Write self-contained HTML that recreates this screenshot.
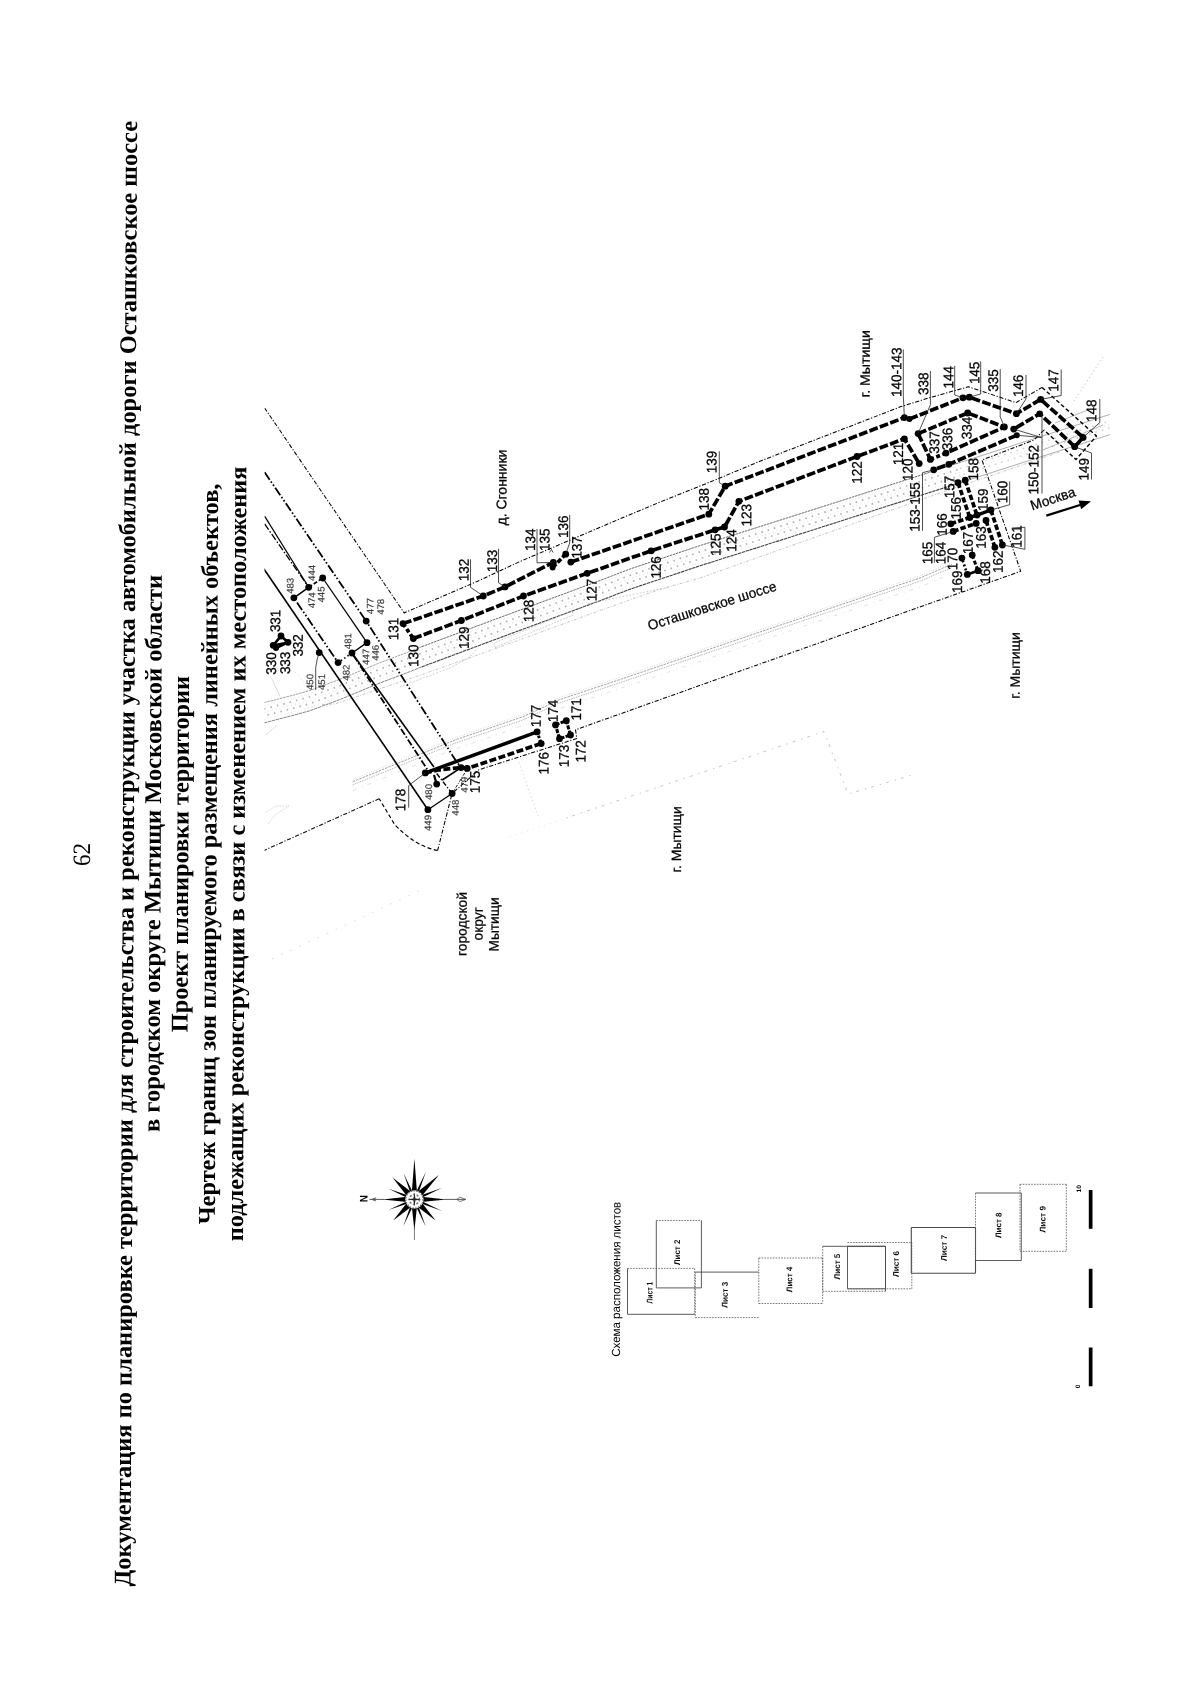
<!DOCTYPE html>
<html><head><meta charset="utf-8"><title>62</title>
<style>html,body{margin:0;padding:0;background:#fff}svg{display:block;filter:grayscale(1)}text{white-space:pre}</style>
</head><body>
<svg width="1200" height="1697" viewBox="0 0 1200 1697">
<rect width="1200" height="1697" fill="#fff"/>
<text transform="translate(90.0 866.0) rotate(-89.74)" font-family="Liberation Serif" font-size="25" font-weight="normal" fill="#000" textLength="23.0" lengthAdjust="spacingAndGlyphs">62</text>
<text transform="translate(130.5 1586.5) rotate(-89.74)" font-family="Liberation Serif" font-size="24" font-weight="bold" fill="#000" textLength="1465.5" lengthAdjust="spacingAndGlyphs">Документация по планировке территории для строительства и реконструкции участка автомобильной дороги Осташковское шоссе</text>
<text transform="translate(159.4 1132.0) rotate(-89.74)" font-family="Liberation Serif" font-size="24" font-weight="bold" fill="#000" textLength="557.2" lengthAdjust="spacingAndGlyphs">в городском округе Мытищи Московской области</text>
<text transform="translate(187.5 1032.2) rotate(-89.74)" font-family="Liberation Serif" font-size="24" font-weight="bold" fill="#000" textLength="356.3" lengthAdjust="spacingAndGlyphs">Проект планировки территории</text>
<text transform="translate(214.8 1224.3) rotate(-89.74)" font-family="Liberation Serif" font-size="24" font-weight="bold" fill="#000" textLength="740.7" lengthAdjust="spacingAndGlyphs">Чертеж границ зон планируемого размещения линейных объектов,</text>
<text transform="translate(242.9 1241.2) rotate(-89.74)" font-family="Liberation Serif" font-size="24" font-weight="bold" fill="#000" textLength="774.7" lengthAdjust="spacingAndGlyphs">подлежащих реконструкции в связи с изменением их местоположения</text>
<clipPath id="mapclip"><rect x="264.5" y="330" width="860" height="650"/></clipPath>
<g clip-path="url(#mapclip)">
<path d="M264.0 702.7 L290.0 696.0 L309.3 690.7 L340.0 679.3 L380.0 662.7 L406.7 652.7 L421.7 646.7" fill="none" stroke="#8a8a8a" stroke-width="0.8" stroke-linecap="butt" stroke-linejoin="round" stroke-dasharray="2.6 0.7"/>
<path d="M421.7 646.7 L500.0 617.5 L600.0 580.5 L630.0 569.0 L700.0 545.6 L820.0 507.5 L912.0 478.0 L960.0 462.5" fill="none" stroke="#5a5a5a" stroke-width="0.9" stroke-linecap="butt" stroke-linejoin="round" stroke-dasharray="2.6 0.7"/>
<path d="M960.0 462.5 L1000.0 449.7 L1110.0 414.4" fill="none" stroke="#8c8c8c" stroke-width="0.7" stroke-linecap="butt" stroke-linejoin="round"/>
<path d="M264.0 722.9 L290.0 716.2 L309.3 710.9 L340.0 699.5 L380.0 682.9 L406.7 672.9 L421.7 666.9" fill="none" stroke="#777" stroke-width="0.9" stroke-linecap="butt" stroke-linejoin="round" stroke-dasharray="3.4 0.6"/>
<path d="M421.7 666.9 L500.0 637.7 L600.0 600.7 L630.0 589.2 L700.0 565.8 L820.0 527.7 L912.0 498.2 L960.0 482.7" fill="none" stroke="#444" stroke-width="1.1" stroke-linecap="butt" stroke-linejoin="round" stroke-dasharray="3.4 0.6"/>
<path d="M960.0 482.7 L1000.0 469.9 L1110.0 434.6" fill="none" stroke="#8c8c8c" stroke-width="0.7" stroke-linecap="butt" stroke-linejoin="round"/>
<path d="M264.0 709.0 L290.0 702.3 L309.3 697.0 L340.0 685.6 L380.0 669.0 L406.7 659.0 L421.7 653.0 L500.0 623.8 L600.0 586.8 L630.0 575.3 L700.0 551.9 L820.0 513.8 L912.0 484.3 L960.0 468.8" fill="none" stroke="#b4b4b4" stroke-width="1.8" stroke-linecap="butt" stroke-linejoin="round" stroke-dasharray="1.6 5"/>
<path d="M264.0 715.9 L290.0 709.2 L309.3 703.9 L340.0 692.5 L380.0 675.9 L406.7 665.9 L421.7 659.9 L500.0 630.7 L600.0 593.7 L630.0 582.2 L700.0 558.8 L820.0 520.7 L912.0 491.2 L960.0 475.7" fill="none" stroke="#b4b4b4" stroke-width="1.8" stroke-linecap="butt" stroke-linejoin="round" stroke-dasharray="1.6 5" stroke-dashoffset="3"/>
<path d="M960.0 468.8 L1000.0 456.0 L1110.0 420.7" fill="none" stroke="#d0d0d0" stroke-width="1.6" stroke-linecap="butt" stroke-linejoin="round" stroke-dasharray="1.6 5"/>
<path d="M960.0 475.7 L1000.0 462.9 L1110.0 427.6" fill="none" stroke="#d0d0d0" stroke-width="1.6" stroke-linecap="butt" stroke-linejoin="round" stroke-dasharray="1.6 5" stroke-dashoffset="3"/>
<path d="M264.0 712.5 L290.0 705.8 L309.3 700.5 L340.0 689.1 L380.0 672.5 L406.7 662.5 L421.7 656.5 L500.0 627.3 L600.0 590.3 L630.0 578.8 L700.0 555.4 L820.0 517.3 L912.0 487.8 L960.0 472.3 L1000.0 459.5 L1110.0 424.2" fill="none" stroke="#c4c4c4" stroke-width="0.6" stroke-linecap="butt" stroke-linejoin="round" stroke-dasharray="1 3"/>
<path d="M264.0 705.7 L290.0 699.0 L309.3 693.7 L340.0 682.3 L380.0 665.7 L406.7 655.7 L421.7 649.7 L500.0 620.5 L600.0 583.5 L630.0 572.0 L700.0 548.6 L820.0 510.5 L912.0 481.0 L960.0 465.5" fill="none" stroke="#c8c8c8" stroke-width="0.5" stroke-linecap="butt" stroke-linejoin="round" stroke-dasharray="1 2.5"/>
<path d="M264.0 719.5 L290.0 712.8 L309.3 707.5 L340.0 696.1 L380.0 679.5 L406.7 669.5 L421.7 663.5 L500.0 634.3 L600.0 597.3 L630.0 585.8 L700.0 562.4 L820.0 524.3 L912.0 494.8 L960.0 479.3" fill="none" stroke="#c8c8c8" stroke-width="0.5" stroke-linecap="butt" stroke-linejoin="round" stroke-dasharray="1 2.5"/>
<path d="M322.0 704.5 L334.7 704.0 L420.0 675.3 L500.0 647.0 L600.0 610.5 L660.0 589.3 L700.0 578.0 L820.0 535.5 L940.0 493.0 L1000.0 472.5 L1060.0 452.0" fill="none" stroke="#b0b0b0" stroke-width="0.7" stroke-linecap="butt" stroke-linejoin="round" stroke-dasharray="3 1.5 1 1.5"/>
<path d="M400.0 686.7 L450.0 668.0 L470.0 657.0 L478.3 647.5" fill="none" stroke="#b0b0b0" stroke-width="0.6" stroke-linecap="butt" stroke-linejoin="round" stroke-dasharray="2 1.5"/>
<path d="M495.0 647.5 L573.3 615.0 L572.0 611.0 L494.0 643.0 L495.0 647.5" fill="none" stroke="#b0b0b0" stroke-width="0.6" stroke-linecap="butt" stroke-linejoin="round" stroke-dasharray="2 1.2"/>
<path d="M588.0 603.7 L670.0 587.0" fill="none" stroke="#b0b0b0" stroke-width="0.6" stroke-linecap="butt" stroke-linejoin="round" stroke-dasharray="2 1.5"/>
<path d="M352.7 781.7 L455.0 740.0 L523.0 716.7 L560.0 699.5 L620.0 679.5 L760.0 632.0 L920.0 578.0 L952.0 564.2" fill="none" stroke="#7a7a7a" stroke-width="0.7" stroke-linecap="butt" stroke-linejoin="round" stroke-dasharray="2.5 1"/>
<path d="M352.7 784.9 L455.0 743.2 L523.0 719.9 L560.0 702.7 L620.0 682.7 L760.0 635.2 L920.0 581.2 L952.0 567.4" fill="none" stroke="#9a9a9a" stroke-width="0.7" stroke-linecap="butt" stroke-linejoin="round" stroke-dasharray="1.5 1"/>
<path d="M352.7 779.5 L455.0 737.8 L523.0 714.5 L560.0 697.3 L620.0 677.3 L760.0 629.8 L920.0 575.8 L952.0 562.0" fill="none" stroke="#b0b0b0" stroke-width="0.5" stroke-linecap="butt" stroke-linejoin="round" stroke-dasharray="1 1.5"/>
<path d="M352.7 790.7 L455.0 749.0 L523.0 725.7 L560.0 708.5 L620.0 688.5 L760.0 641.0 L920.0 587.0 L952.0 573.2" fill="none" stroke="#c4c4c4" stroke-width="0.5" stroke-linecap="butt" stroke-linejoin="round" stroke-dasharray="4 6 1 5"/>
<path d="M566.0 818.0 L824.0 731.6 L848.0 794.0 L914.0 774.5" fill="none" stroke="#adadad" stroke-width="0.7" stroke-linecap="butt" stroke-linejoin="round" stroke-dasharray="1.5 5 3 6"/>
<path d="M519.0 762.5 L539.3 819.3" fill="none" stroke="#b0b0b0" stroke-width="0.7" stroke-linecap="butt" stroke-linejoin="round" stroke-dasharray="1 3"/>
<path d="M510.0 836.8 L607.0 804.7" fill="none" stroke="#cccccc" stroke-width="0.6" stroke-linecap="butt" stroke-linejoin="round" stroke-dasharray="1 5"/>
<path d="M272.0 959.0 L423.0 889.0" fill="none" stroke="#cccccc" stroke-width="0.6" stroke-linecap="butt" stroke-linejoin="round" stroke-dasharray="2 8"/>
<path d="M1103.0 357.0 L1072.0 404.0" fill="none" stroke="#909090" stroke-width="0.7" stroke-linecap="butt" stroke-linejoin="round" stroke-dasharray="1 3"/>
<path d="M1055.0 423.0 L1088.0 410.0" fill="none" stroke="#8a8a8a" stroke-width="0.6" stroke-linecap="butt" stroke-linejoin="round"/>
<path d="M1043.0 450.0 L1103.0 425.0" fill="none" stroke="#8a8a8a" stroke-width="0.6" stroke-linecap="butt" stroke-linejoin="round"/>
<path d="M271.7 678.3 L280.0 696.7" fill="none" stroke="#b0b0b0" stroke-width="0.5" stroke-linecap="butt" stroke-linejoin="round"/>
<path d="M293.3 670.0 L308.3 686.7" fill="none" stroke="#b0b0b0" stroke-width="0.5" stroke-linecap="butt" stroke-linejoin="round" stroke-dasharray="1 2"/>
<path d="M266.0 735.0 L277.0 725.0" fill="none" stroke="#b0b0b0" stroke-width="0.6" stroke-linecap="butt" stroke-linejoin="round" stroke-dasharray="2 1"/>
<path d="M266.0 812.0 L276.0 806.0 L289.0 806.0 L275.0 815.0 L268.0 824.0" fill="none" stroke="#c8c8c8" stroke-width="0.6" stroke-linecap="butt" stroke-linejoin="round" stroke-dasharray="2 1"/>
<path d="M264.6 408.0 L404.2 612.9 L480.0 580.2 L520.0 561.5 L620.0 518.8 L660.0 502.1 L719.2 478.3 L760.0 461.2 L901.0 406.6 L931.0 397.3 L968.3 386.8 L1016.0 402.6 L1042.0 387.4" fill="none" stroke="#000" stroke-width="1.05" stroke-linecap="butt" stroke-linejoin="round" stroke-dasharray="4.2 1.7 1.2 1.7"/>
<path d="M1042.0 387.4 L1096.5 436.0 L1076.0 459.5 L1044.0 430.0" fill="none" stroke="#000" stroke-width="1.4" stroke-linecap="butt" stroke-linejoin="round" stroke-dasharray="4 2.4"/>
<path d="M1044.0 430.0 L1034.0 440.0 L982.0 460.0 L1020.7 571.3 L913.3 609.3 L575.5 729.8 L576.8 738.5 L478.8 769.8 L452.1 793.5 L437.6 850.5" fill="none" stroke="#000" stroke-width="1.05" stroke-linecap="butt" stroke-linejoin="round" stroke-dasharray="4.2 1.7 1.2 1.7"/>
<path d="M437.6 850.5 Q415 846 394.7 824.6 L379.2 798.7" fill="none" stroke="#000" stroke-width="1.15" stroke-dasharray="4 2.5"/>
<path d="M379.2 798.7 L264.2 850.4" fill="none" stroke="#111" stroke-width="1.1" stroke-linecap="butt" stroke-linejoin="round" stroke-dasharray="4.2 1.7 1.2 1.7"/>
<path d="M263.8 568.7 L427.9 809.7" fill="none" stroke="#000" stroke-width="1.6" stroke-linecap="butt" stroke-linejoin="round"/>
<path d="M264.6 472.2 L366.2 621.1 L455.9 760.7 L461.1 767.6" fill="none" stroke="#000" stroke-width="1.8" stroke-linecap="butt" stroke-linejoin="round" stroke-dasharray="9 2.2 1.6 2.2 1.6 2.2"/>
<path d="M264.6 516.1 L308.7 587.3" fill="none" stroke="#000" stroke-width="1.2" stroke-linecap="butt" stroke-linejoin="round"/>
<path d="M264.6 523.9 L308.7 587.3" fill="none" stroke="#000" stroke-width="1.3" stroke-linecap="butt" stroke-linejoin="round" stroke-dasharray="7 2 1.5 2"/>
<path d="M293.9 597.8 L308.7 587.3" fill="none" stroke="#000" stroke-width="1.6" stroke-linecap="butt" stroke-linejoin="round"/>
<path d="M308.7 587.3 L322.7 578.0" fill="none" stroke="#000" stroke-width="1.6" stroke-linecap="butt" stroke-linejoin="round" stroke-dasharray="4 2"/>
<path d="M322.7 578.0 L367.0 642.7" fill="none" stroke="#000" stroke-width="1.3" stroke-linecap="butt" stroke-linejoin="round"/>
<path d="M297.0 602.5 L338.1 662.6" fill="none" stroke="#000" stroke-width="1.8" stroke-linecap="butt" stroke-linejoin="round" stroke-dasharray="9 2.2 1.6 2.2 1.6 2.2"/>
<path d="M367.0 642.7 L352.0 653.0" fill="none" stroke="#000" stroke-width="1.4" stroke-linecap="butt" stroke-linejoin="round"/>
<path d="M352.0 653.0 L338.1 662.6" fill="none" stroke="#000" stroke-width="1.6" stroke-linecap="butt" stroke-linejoin="round" stroke-dasharray="1.6 2.4"/>
<path d="M352.0 653.0 L433.9 767.0" fill="none" stroke="#000" stroke-width="1.6" stroke-linecap="butt" stroke-linejoin="round"/>
<path d="M353.5 655.5 L427.5 769.8" fill="none" stroke="#000" stroke-width="1.8" stroke-linecap="butt" stroke-linejoin="round" stroke-dasharray="7 2 1.5 2"/>
<path d="M427.9 809.7 L452.1 793.5" fill="none" stroke="#000" stroke-width="1.3" stroke-linecap="butt" stroke-linejoin="round"/>
<path d="M452.1 793.5 L466.0 771.0" fill="none" stroke="#000" stroke-width="0.9" stroke-linecap="butt" stroke-linejoin="round" stroke-dasharray="3 1.5 1 1.5"/>
<path d="M436.7 773.5 L452.1 793.5" fill="none" stroke="#000" stroke-width="1.4" stroke-linecap="butt" stroke-linejoin="round" stroke-dasharray="5 2 1.2 2"/>
<path d="M442.2 780.0 L461.1 767.6" fill="none" stroke="#000" stroke-width="1.7" stroke-linecap="butt" stroke-linejoin="round"/>
<path d="M434.0 775.0 L436.7 784.1" fill="none" stroke="#000" stroke-width="2.2" stroke-linecap="butt" stroke-linejoin="round"/>
<path d="M403.0 623.6 L483.3 596.0 L505.0 586.9 L553.3 562.4" fill="none" stroke="#000" stroke-width="3.7" stroke-linecap="butt" stroke-linejoin="round" stroke-dasharray="8.8 2.3"/>
<path d="M552.6 567.5 L565.7 554.2" fill="none" stroke="#000" stroke-width="3.7" stroke-linecap="butt" stroke-linejoin="round" stroke-dasharray="5 2"/>
<path d="M570.8 562.1 L708.8 514.2 L725.2 486.2 L904.4 417.6" fill="none" stroke="#000" stroke-width="3.7" stroke-linecap="butt" stroke-linejoin="round" stroke-dasharray="8.8 2.3"/>
<path d="M909.4 419.0 L962.9 397.8 L969.4 397.2 L1016.4 413.7 L1040.7 399.4 L1083.1 437.4" fill="none" stroke="#000" stroke-width="3.7" stroke-linecap="butt" stroke-linejoin="round" stroke-dasharray="8.8 2.3"/>
<path d="M1083.1 437.4 L1074.7 446.7" fill="none" stroke="#000" stroke-width="3.7" stroke-linecap="butt" stroke-linejoin="round"/>
<path d="M1074.7 446.7 L1039.7 413.7 L1013.7 429.1" fill="none" stroke="#000" stroke-width="3.7" stroke-linecap="butt" stroke-linejoin="round" stroke-dasharray="8.8 2.3"/>
<path d="M1016.8 435.2 L948.8 464.3 L933.7 469.8" fill="none" stroke="#000" stroke-width="3.7" stroke-linecap="butt" stroke-linejoin="round" stroke-dasharray="8.8 2.3"/>
<path d="M403.0 623.6 L413.3 638.6" fill="none" stroke="#000" stroke-width="3.7" stroke-linecap="butt" stroke-linejoin="round" stroke-dasharray="4 2.5"/>
<path d="M413.3 638.6 L461.4 620.5 L523.5 596.0 L587.2 573.3 L651.2 550.8 L715.1 529.8 L724.5 527.0 L738.9 501.3 L857.0 456.5 L904.4 438.8 L919.2 463.6" fill="none" stroke="#000" stroke-width="3.7" stroke-linecap="butt" stroke-linejoin="round" stroke-dasharray="8.8 2.3"/>
<path d="M918.1 433.6 L967.7 413.0 L1004.4 427.0 L946.0 453.1" fill="none" stroke="#000" stroke-width="3.7" stroke-linecap="butt" stroke-linejoin="round" stroke-dasharray="8.8 2.3"/>
<path d="M918.1 433.6 L930.4 459.4" fill="none" stroke="#000" stroke-width="3.7" stroke-linecap="butt" stroke-linejoin="round" stroke-dasharray="8.8 2.3"/>
<path d="M946.0 453.1 L930.4 459.4" fill="none" stroke="#000" stroke-width="3.7" stroke-linecap="butt" stroke-linejoin="round" stroke-dasharray="4 2.5"/>
<path d="M958.0 482.7 L969.8 517.5" fill="none" stroke="#000" stroke-width="3.7" stroke-linecap="butt" stroke-linejoin="round" stroke-dasharray="5.5 2.2"/>
<path d="M965.2 480.2 L977.0 515.1" fill="none" stroke="#000" stroke-width="3.7" stroke-linecap="butt" stroke-linejoin="round" stroke-dasharray="5.5 2.2"/>
<path d="M950.8 523.8 L969.8 517.5" fill="none" stroke="#000" stroke-width="3.7" stroke-linecap="butt" stroke-linejoin="round" stroke-dasharray="5.5 2.2"/>
<path d="M969.8 517.5 L977.0 515.1 L990.9 510.0" fill="none" stroke="#000" stroke-width="3.3" stroke-linecap="butt" stroke-linejoin="round"/>
<path d="M953.2 531.4 L976.2 523.4" fill="none" stroke="#000" stroke-width="3.7" stroke-linecap="butt" stroke-linejoin="round" stroke-dasharray="5.5 2.2"/>
<path d="M986.0 520.5 L994.9 547.3" fill="none" stroke="#000" stroke-width="3.7" stroke-linecap="butt" stroke-linejoin="round" stroke-dasharray="5.5 2.2"/>
<path d="M990.9 510.0 L1002.4 545.0" fill="none" stroke="#000" stroke-width="3.7" stroke-linecap="butt" stroke-linejoin="round" stroke-dasharray="5.5 2.2"/>
<path d="M972.2 555.1 L978.0 570.7" fill="none" stroke="#000" stroke-width="3.0" stroke-linecap="butt" stroke-linejoin="round" stroke-dasharray="4 2"/>
<path d="M978.0 570.7 L967.3 574.4" fill="none" stroke="#000" stroke-width="2.6" stroke-linecap="butt" stroke-linejoin="round"/>
<path d="M967.3 574.4 L961.9 558.1" fill="none" stroke="#000" stroke-width="2.6" stroke-linecap="butt" stroke-linejoin="round" stroke-dasharray="2 2.2"/>
<path d="M425.3 772.9 L537.1 731.9" fill="none" stroke="#000" stroke-width="3.5" stroke-linecap="butt" stroke-linejoin="round"/>
<path d="M537.1 731.9 L541.2 743.6" fill="none" stroke="#000" stroke-width="3.0" stroke-linecap="butt" stroke-linejoin="round" stroke-dasharray="2.4 1.8"/>
<path d="M541.2 743.6 L467.2 768.4 L461.1 767.6 L439.4 769.8 L425.3 772.9" fill="none" stroke="#000" stroke-width="3.7" stroke-linecap="butt" stroke-linejoin="round" stroke-dasharray="7 2.5"/>
<path d="M555.5 724.9 L566.3 720.7 L570.5 735.0 L559.5 738.7 L555.5 724.9" fill="none" stroke="#000" stroke-width="3.0" stroke-linecap="butt" stroke-linejoin="round" stroke-dasharray="4.2 1.3"/>
<path d="M273.2 645.3 L281.0 636.0 L288.0 642.3 L276.0 648.0 L273.2 645.3" fill="none" stroke="#000" stroke-width="2.6" stroke-linecap="butt" stroke-linejoin="round"/>
<path d="M273.2 645.3 L288.0 642.3" fill="none" stroke="#000" stroke-width="2.2" stroke-linecap="butt" stroke-linejoin="round"/>
<circle cx="403.0" cy="623.6" r="3.4" fill="#000"/>
<circle cx="413.3" cy="638.6" r="3.4" fill="#000"/>
<circle cx="461.4" cy="620.5" r="3.4" fill="#000"/>
<circle cx="523.5" cy="596.0" r="3.4" fill="#000"/>
<circle cx="587.2" cy="573.3" r="3.4" fill="#000"/>
<circle cx="651.2" cy="550.8" r="3.4" fill="#000"/>
<circle cx="715.1" cy="529.8" r="3.4" fill="#000"/>
<circle cx="724.5" cy="527.0" r="3.4" fill="#000"/>
<circle cx="738.9" cy="501.3" r="3.4" fill="#000"/>
<circle cx="857.0" cy="456.5" r="3.4" fill="#000"/>
<circle cx="904.4" cy="438.8" r="3.4" fill="#000"/>
<circle cx="919.2" cy="463.6" r="3.4" fill="#000"/>
<circle cx="483.3" cy="596.0" r="3.4" fill="#000"/>
<circle cx="505.0" cy="586.9" r="3.4" fill="#000"/>
<circle cx="553.3" cy="562.4" r="3.4" fill="#000"/>
<circle cx="552.6" cy="567.5" r="3.0" fill="#000"/>
<circle cx="565.7" cy="554.2" r="3.4" fill="#000"/>
<circle cx="570.8" cy="562.1" r="3.4" fill="#000"/>
<circle cx="708.8" cy="514.2" r="3.4" fill="#000"/>
<circle cx="725.2" cy="486.2" r="3.4" fill="#000"/>
<circle cx="904.4" cy="417.6" r="3.4" fill="#000"/>
<circle cx="909.4" cy="419.0" r="3.0" fill="#000"/>
<circle cx="962.9" cy="397.8" r="3.4" fill="#000"/>
<circle cx="969.4" cy="397.2" r="3.4" fill="#000"/>
<circle cx="1016.4" cy="413.7" r="3.4" fill="#000"/>
<circle cx="1040.7" cy="399.4" r="3.4" fill="#000"/>
<circle cx="1083.1" cy="437.4" r="3.4" fill="#000"/>
<circle cx="1074.7" cy="446.7" r="3.4" fill="#000"/>
<circle cx="1039.7" cy="413.7" r="3.3" fill="#000"/>
<circle cx="1013.7" cy="429.1" r="3.4" fill="#000"/>
<circle cx="1016.8" cy="435.2" r="3.0" fill="#000"/>
<circle cx="1004.4" cy="427.0" r="3.4" fill="#000"/>
<circle cx="967.7" cy="413.0" r="3.4" fill="#000"/>
<circle cx="918.1" cy="433.6" r="3.4" fill="#000"/>
<circle cx="930.4" cy="459.4" r="3.4" fill="#000"/>
<circle cx="946.0" cy="453.1" r="3.4" fill="#000"/>
<circle cx="933.7" cy="469.8" r="3.4" fill="#000"/>
<circle cx="948.8" cy="464.3" r="3.4" fill="#000"/>
<circle cx="958.0" cy="482.7" r="3.4" fill="#000"/>
<circle cx="965.2" cy="480.2" r="3.4" fill="#000"/>
<circle cx="969.8" cy="517.5" r="3.4" fill="#000"/>
<circle cx="977.0" cy="515.1" r="3.4" fill="#000"/>
<circle cx="990.9" cy="510.0" r="3.4" fill="#000"/>
<circle cx="950.8" cy="523.8" r="3.4" fill="#000"/>
<circle cx="953.2" cy="531.4" r="3.4" fill="#000"/>
<circle cx="976.2" cy="523.4" r="3.4" fill="#000"/>
<circle cx="986.0" cy="520.5" r="3.4" fill="#000"/>
<circle cx="994.9" cy="547.3" r="3.4" fill="#000"/>
<circle cx="1002.4" cy="545.0" r="3.4" fill="#000"/>
<circle cx="972.2" cy="555.1" r="3.4" fill="#000"/>
<circle cx="961.9" cy="558.1" r="3.4" fill="#000"/>
<circle cx="978.0" cy="570.7" r="3.4" fill="#000"/>
<circle cx="967.3" cy="574.4" r="3.4" fill="#000"/>
<circle cx="425.3" cy="772.9" r="3.4" fill="#000"/>
<circle cx="436.7" cy="784.1" r="3.4" fill="#000"/>
<circle cx="452.1" cy="793.5" r="3.4" fill="#000"/>
<circle cx="427.9" cy="809.7" r="3.4" fill="#000"/>
<circle cx="461.1" cy="767.6" r="3.4" fill="#000"/>
<circle cx="467.2" cy="768.4" r="3.4" fill="#000"/>
<circle cx="537.1" cy="731.9" r="3.4" fill="#000"/>
<circle cx="541.2" cy="743.6" r="3.4" fill="#000"/>
<circle cx="555.5" cy="724.9" r="3.4" fill="#000"/>
<circle cx="566.3" cy="720.7" r="3.4" fill="#000"/>
<circle cx="570.5" cy="735.0" r="3.4" fill="#000"/>
<circle cx="559.5" cy="738.7" r="3.4" fill="#000"/>
<circle cx="293.9" cy="597.8" r="3.4" fill="#000"/>
<circle cx="308.7" cy="587.3" r="3.4" fill="#000"/>
<circle cx="322.7" cy="578.0" r="3.4" fill="#000"/>
<circle cx="366.2" cy="621.1" r="3.4" fill="#000"/>
<circle cx="367.0" cy="642.7" r="3.4" fill="#000"/>
<circle cx="352.0" cy="653.0" r="3.4" fill="#000"/>
<circle cx="338.1" cy="662.6" r="3.4" fill="#000"/>
<circle cx="319.2" cy="652.6" r="3.4" fill="#000"/>
<circle cx="281.0" cy="636.0" r="3.4" fill="#000"/>
<circle cx="288.0" cy="642.3" r="3.4" fill="#000"/>
<circle cx="273.2" cy="645.3" r="3.4" fill="#000"/>
<circle cx="276.0" cy="648.0" r="3.0" fill="#000"/>
</g>
<text transform="translate(901.2 397.1) rotate(-89.74)" font-family="Liberation Sans" font-size="14.0" font-weight="normal" fill="#000" textLength="49.5" lengthAdjust="spacingAndGlyphs" stroke="#000" stroke-width="0.28">140-143</text>
<text transform="translate(928.3 394.9) rotate(-89.74)" font-family="Liberation Sans" font-size="14.0" font-weight="normal" fill="#000" textLength="22.4" lengthAdjust="spacingAndGlyphs" stroke="#000" stroke-width="0.28">338</text>
<text transform="translate(953.2 388.4) rotate(-89.74)" font-family="Liberation Sans" font-size="14.0" font-weight="normal" fill="#000" textLength="22.4" lengthAdjust="spacingAndGlyphs" stroke="#000" stroke-width="0.28">144</text>
<text transform="translate(979.2 384.1) rotate(-89.74)" font-family="Liberation Sans" font-size="14.0" font-weight="normal" fill="#000" textLength="22.4" lengthAdjust="spacingAndGlyphs" stroke="#000" stroke-width="0.28">145</text>
<text transform="translate(998.0 391.7) rotate(-89.74)" font-family="Liberation Sans" font-size="14.0" font-weight="normal" fill="#000" textLength="22.4" lengthAdjust="spacingAndGlyphs" stroke="#000" stroke-width="0.28">335</text>
<text transform="translate(1023.0 397.1) rotate(-89.74)" font-family="Liberation Sans" font-size="14.0" font-weight="normal" fill="#000" textLength="22.4" lengthAdjust="spacingAndGlyphs" stroke="#000" stroke-width="0.28">146</text>
<text transform="translate(1058.3 391.7) rotate(-89.74)" font-family="Liberation Sans" font-size="14.0" font-weight="normal" fill="#000" textLength="22.4" lengthAdjust="spacingAndGlyphs" stroke="#000" stroke-width="0.28">147</text>
<text transform="translate(1096.2 422.0) rotate(-89.74)" font-family="Liberation Sans" font-size="14.0" font-weight="normal" fill="#000" textLength="22.4" lengthAdjust="spacingAndGlyphs" stroke="#000" stroke-width="0.28">148</text>
<text transform="translate(1088.6 480.5) rotate(-89.74)" font-family="Liberation Sans" font-size="14.0" font-weight="normal" fill="#000" textLength="22.4" lengthAdjust="spacingAndGlyphs" stroke="#000" stroke-width="0.28">149</text>
<text transform="translate(1038.3 494.6) rotate(-89.74)" font-family="Liberation Sans" font-size="14.0" font-weight="normal" fill="#000" textLength="49.5" lengthAdjust="spacingAndGlyphs" stroke="#000" stroke-width="0.28">150-152</text>
<text transform="translate(919.6 531.8) rotate(-89.74)" font-family="Liberation Sans" font-size="14.0" font-weight="normal" fill="#000" textLength="49.5" lengthAdjust="spacingAndGlyphs" stroke="#000" stroke-width="0.28">153-155</text>
<text transform="translate(903.0 465.3) rotate(-89.74)" font-family="Liberation Sans" font-size="14.0" font-weight="normal" fill="#000" textLength="22.4" lengthAdjust="spacingAndGlyphs" stroke="#000" stroke-width="0.28">121</text>
<text transform="translate(912.5 481.0) rotate(-89.74)" font-family="Liberation Sans" font-size="14.0" font-weight="normal" fill="#000" textLength="22.4" lengthAdjust="spacingAndGlyphs" stroke="#000" stroke-width="0.28">120</text>
<text transform="translate(939.1 453.7) rotate(-89.74)" font-family="Liberation Sans" font-size="14.0" font-weight="normal" fill="#000" textLength="22.4" lengthAdjust="spacingAndGlyphs" stroke="#000" stroke-width="0.28">337</text>
<text transform="translate(952.1 450.2) rotate(-89.74)" font-family="Liberation Sans" font-size="14.0" font-weight="normal" fill="#000" textLength="22.4" lengthAdjust="spacingAndGlyphs" stroke="#000" stroke-width="0.28">336</text>
<text transform="translate(971.6 439.3) rotate(-89.74)" font-family="Liberation Sans" font-size="14.0" font-weight="normal" fill="#000" textLength="22.4" lengthAdjust="spacingAndGlyphs" stroke="#000" stroke-width="0.28">334</text>
<text transform="translate(978.1 480.5) rotate(-89.74)" font-family="Liberation Sans" font-size="14.0" font-weight="normal" fill="#000" textLength="22.4" lengthAdjust="spacingAndGlyphs" stroke="#000" stroke-width="0.28">158</text>
<text transform="translate(960.8 519.5) rotate(-89.74)" font-family="Liberation Sans" font-size="14.0" font-weight="normal" fill="#000" textLength="22.4" lengthAdjust="spacingAndGlyphs" stroke="#000" stroke-width="0.28">156</text>
<text transform="translate(987.8 510.9) rotate(-89.74)" font-family="Liberation Sans" font-size="14.0" font-weight="normal" fill="#000" textLength="22.4" lengthAdjust="spacingAndGlyphs" stroke="#000" stroke-width="0.28">159</text>
<text transform="translate(1007.3 503.3) rotate(-89.74)" font-family="Liberation Sans" font-size="14.0" font-weight="normal" fill="#000" textLength="22.4" lengthAdjust="spacingAndGlyphs" stroke="#000" stroke-width="0.28">160</text>
<text transform="translate(946.7 535.8) rotate(-89.74)" font-family="Liberation Sans" font-size="14.0" font-weight="normal" fill="#000" textLength="22.4" lengthAdjust="spacingAndGlyphs" stroke="#000" stroke-width="0.28">166</text>
<text transform="translate(985.7 548.8) rotate(-89.74)" font-family="Liberation Sans" font-size="14.0" font-weight="normal" fill="#000" textLength="22.4" lengthAdjust="spacingAndGlyphs" stroke="#000" stroke-width="0.28">163</text>
<text transform="translate(1021.4 547.7) rotate(-89.74)" font-family="Liberation Sans" font-size="14.0" font-weight="normal" fill="#000" textLength="22.4" lengthAdjust="spacingAndGlyphs" stroke="#000" stroke-width="0.28">161</text>
<text transform="translate(932.3 564.3) rotate(-89.74)" font-family="Liberation Sans" font-size="14.0" font-weight="normal" fill="#000" textLength="22.4" lengthAdjust="spacingAndGlyphs" stroke="#000" stroke-width="0.28">165</text>
<text transform="translate(945.5 564.3) rotate(-89.74)" font-family="Liberation Sans" font-size="14.0" font-weight="normal" fill="#000" textLength="22.4" lengthAdjust="spacingAndGlyphs" stroke="#000" stroke-width="0.28">164</text>
<text transform="translate(972.7 554.3) rotate(-89.74)" font-family="Liberation Sans" font-size="14.0" font-weight="normal" fill="#000" textLength="22.4" lengthAdjust="spacingAndGlyphs" stroke="#000" stroke-width="0.28">167</text>
<text transform="translate(957.3 570.3) rotate(-89.74)" font-family="Liberation Sans" font-size="14.0" font-weight="normal" fill="#000" textLength="22.4" lengthAdjust="spacingAndGlyphs" stroke="#000" stroke-width="0.28">170</text>
<text transform="translate(1002.7 573.0) rotate(-89.74)" font-family="Liberation Sans" font-size="14.0" font-weight="normal" fill="#000" textLength="22.4" lengthAdjust="spacingAndGlyphs" stroke="#000" stroke-width="0.28">162</text>
<text transform="translate(990.0 583.7) rotate(-89.74)" font-family="Liberation Sans" font-size="14.0" font-weight="normal" fill="#000" textLength="22.4" lengthAdjust="spacingAndGlyphs" stroke="#000" stroke-width="0.28">168</text>
<text transform="translate(962.0 593.0) rotate(-89.74)" font-family="Liberation Sans" font-size="14.0" font-weight="normal" fill="#000" textLength="22.4" lengthAdjust="spacingAndGlyphs" stroke="#000" stroke-width="0.28">169</text>
<text transform="translate(660.8 578.6) rotate(-89.74)" font-family="Liberation Sans" font-size="14.0" font-weight="normal" fill="#000" textLength="22.4" lengthAdjust="spacingAndGlyphs" stroke="#000" stroke-width="0.28">126</text>
<text transform="translate(720.5 556.0) rotate(-89.74)" font-family="Liberation Sans" font-size="14.0" font-weight="normal" fill="#000" textLength="22.4" lengthAdjust="spacingAndGlyphs" stroke="#000" stroke-width="0.28">125</text>
<text transform="translate(736.3 551.8) rotate(-89.74)" font-family="Liberation Sans" font-size="14.0" font-weight="normal" fill="#000" textLength="22.4" lengthAdjust="spacingAndGlyphs" stroke="#000" stroke-width="0.28">124</text>
<text transform="translate(751.2 526.4) rotate(-89.74)" font-family="Liberation Sans" font-size="14.0" font-weight="normal" fill="#000" textLength="22.4" lengthAdjust="spacingAndGlyphs" stroke="#000" stroke-width="0.28">123</text>
<text transform="translate(708.8 510.5) rotate(-89.74)" font-family="Liberation Sans" font-size="14.0" font-weight="normal" fill="#000" textLength="22.4" lengthAdjust="spacingAndGlyphs" stroke="#000" stroke-width="0.28">138</text>
<text transform="translate(716.5 473.2) rotate(-89.74)" font-family="Liberation Sans" font-size="14.0" font-weight="normal" fill="#000" textLength="22.4" lengthAdjust="spacingAndGlyphs" stroke="#000" stroke-width="0.28">139</text>
<text transform="translate(861.7 483.7) rotate(-89.74)" font-family="Liberation Sans" font-size="14.0" font-weight="normal" fill="#000" textLength="22.4" lengthAdjust="spacingAndGlyphs" stroke="#000" stroke-width="0.28">122</text>
<text transform="translate(398.3 640.3) rotate(-89.74)" font-family="Liberation Sans" font-size="14.0" font-weight="normal" fill="#000" textLength="22.4" lengthAdjust="spacingAndGlyphs" stroke="#000" stroke-width="0.28">131</text>
<text transform="translate(418.2 667.0) rotate(-89.74)" font-family="Liberation Sans" font-size="14.0" font-weight="normal" fill="#000" textLength="22.4" lengthAdjust="spacingAndGlyphs" stroke="#000" stroke-width="0.28">130</text>
<text transform="translate(468.8 649.0) rotate(-89.74)" font-family="Liberation Sans" font-size="14.0" font-weight="normal" fill="#000" textLength="22.4" lengthAdjust="spacingAndGlyphs" stroke="#000" stroke-width="0.28">129</text>
<text transform="translate(533.5 622.2) rotate(-89.74)" font-family="Liberation Sans" font-size="14.0" font-weight="normal" fill="#000" textLength="22.4" lengthAdjust="spacingAndGlyphs" stroke="#000" stroke-width="0.28">128</text>
<text transform="translate(596.5 601.2) rotate(-89.74)" font-family="Liberation Sans" font-size="14.0" font-weight="normal" fill="#000" textLength="22.4" lengthAdjust="spacingAndGlyphs" stroke="#000" stroke-width="0.28">127</text>
<text transform="translate(468.6 581.3) rotate(-89.74)" font-family="Liberation Sans" font-size="14.0" font-weight="normal" fill="#000" textLength="22.4" lengthAdjust="spacingAndGlyphs" stroke="#000" stroke-width="0.28">132</text>
<text transform="translate(496.9 572.2) rotate(-89.74)" font-family="Liberation Sans" font-size="14.0" font-weight="normal" fill="#000" textLength="22.4" lengthAdjust="spacingAndGlyphs" stroke="#000" stroke-width="0.28">133</text>
<text transform="translate(535.1 551.0) rotate(-89.74)" font-family="Liberation Sans" font-size="14.0" font-weight="normal" fill="#000" textLength="22.4" lengthAdjust="spacingAndGlyphs" stroke="#000" stroke-width="0.28">134</text>
<text transform="translate(549.4 551.0) rotate(-89.74)" font-family="Liberation Sans" font-size="14.0" font-weight="normal" fill="#000" textLength="22.4" lengthAdjust="spacingAndGlyphs" stroke="#000" stroke-width="0.28">135</text>
<text transform="translate(568.0 538.0) rotate(-89.74)" font-family="Liberation Sans" font-size="14.0" font-weight="normal" fill="#000" textLength="22.4" lengthAdjust="spacingAndGlyphs" stroke="#000" stroke-width="0.28">136</text>
<text transform="translate(581.6 558.6) rotate(-89.74)" font-family="Liberation Sans" font-size="14.0" font-weight="normal" fill="#000" textLength="22.4" lengthAdjust="spacingAndGlyphs" stroke="#000" stroke-width="0.28">137</text>
<text transform="translate(557.7 722.3) rotate(-89.74)" font-family="Liberation Sans" font-size="14.0" font-weight="normal" fill="#000" textLength="22.4" lengthAdjust="spacingAndGlyphs" stroke="#000" stroke-width="0.28">174</text>
<text transform="translate(580.9 720.6) rotate(-89.74)" font-family="Liberation Sans" font-size="14.0" font-weight="normal" fill="#000" textLength="22.4" lengthAdjust="spacingAndGlyphs" stroke="#000" stroke-width="0.28">171</text>
<text transform="translate(548.5 774.5) rotate(-89.74)" font-family="Liberation Sans" font-size="14.0" font-weight="normal" fill="#000" textLength="22.4" lengthAdjust="spacingAndGlyphs" stroke="#000" stroke-width="0.28">176</text>
<text transform="translate(568.7 767.2) rotate(-89.74)" font-family="Liberation Sans" font-size="14.0" font-weight="normal" fill="#000" textLength="22.4" lengthAdjust="spacingAndGlyphs" stroke="#000" stroke-width="0.28">173</text>
<text transform="translate(585.5 762.6) rotate(-89.74)" font-family="Liberation Sans" font-size="14.0" font-weight="normal" fill="#000" textLength="22.4" lengthAdjust="spacingAndGlyphs" stroke="#000" stroke-width="0.28">172</text>
<text transform="translate(479.8 793.3) rotate(-89.74)" font-family="Liberation Sans" font-size="14.0" font-weight="normal" fill="#000" textLength="22.4" lengthAdjust="spacingAndGlyphs" stroke="#000" stroke-width="0.28">175</text>
<text transform="translate(405.2 811.2) rotate(-89.74)" font-family="Liberation Sans" font-size="14.0" font-weight="normal" fill="#000" textLength="22.4" lengthAdjust="spacingAndGlyphs" stroke="#000" stroke-width="0.28">178</text>
<text transform="translate(280.1 632.1) rotate(-89.74)" font-family="Liberation Sans" font-size="14.0" font-weight="normal" fill="#000" textLength="22.4" lengthAdjust="spacingAndGlyphs" stroke="#000" stroke-width="0.28">331</text>
<text transform="translate(276.0 674.7) rotate(-89.74)" font-family="Liberation Sans" font-size="14.0" font-weight="normal" fill="#000" textLength="22.4" lengthAdjust="spacingAndGlyphs" stroke="#000" stroke-width="0.28">330</text>
<text transform="translate(290.0 674.1) rotate(-89.74)" font-family="Liberation Sans" font-size="14.0" font-weight="normal" fill="#000" textLength="22.4" lengthAdjust="spacingAndGlyphs" stroke="#000" stroke-width="0.28">333</text>
<text transform="translate(302.8 656.6) rotate(-89.74)" font-family="Liberation Sans" font-size="14.0" font-weight="normal" fill="#000" textLength="22.4" lengthAdjust="spacingAndGlyphs" stroke="#000" stroke-width="0.28">332</text>
<text transform="translate(540.8 727.3) rotate(-89.74)" font-family="Liberation Sans" font-size="14.0" font-weight="normal" fill="#000" textLength="22.4" lengthAdjust="spacingAndGlyphs" stroke="#000" stroke-width="0.28">177</text>
<text transform="translate(954.2 498.2) rotate(-89.74)" font-family="Liberation Sans" font-size="14.0" font-weight="normal" fill="#000" textLength="22.4" lengthAdjust="spacingAndGlyphs" stroke="#000" stroke-width="0.28">157</text>
<text transform="translate(293.5 593.8) rotate(-89.74)" font-family="Liberation Sans" font-size="9.6" font-weight="normal" fill="#3a3a3a" stroke="#3a3a3a" stroke-width="0.15">483</text>
<text transform="translate(315.1 580.9) rotate(-89.74)" font-family="Liberation Sans" font-size="9.6" font-weight="normal" fill="#3a3a3a" stroke="#3a3a3a" stroke-width="0.15">444</text>
<text transform="translate(315.1 608.3) rotate(-89.74)" font-family="Liberation Sans" font-size="9.6" font-weight="normal" fill="#3a3a3a" stroke="#3a3a3a" stroke-width="0.15">474</text>
<text transform="translate(324.4 602.5) rotate(-89.74)" font-family="Liberation Sans" font-size="9.6" font-weight="normal" fill="#3a3a3a" stroke="#3a3a3a" stroke-width="0.15">445</text>
<text transform="translate(373.4 614.2) rotate(-89.74)" font-family="Liberation Sans" font-size="9.6" font-weight="normal" fill="#3a3a3a" stroke="#3a3a3a" stroke-width="0.15">477</text>
<text transform="translate(383.9 614.8) rotate(-89.74)" font-family="Liberation Sans" font-size="9.6" font-weight="normal" fill="#3a3a3a" stroke="#3a3a3a" stroke-width="0.15">478</text>
<text transform="translate(351.3 649.2) rotate(-89.74)" font-family="Liberation Sans" font-size="9.6" font-weight="normal" fill="#3a3a3a" stroke="#3a3a3a" stroke-width="0.15">481</text>
<text transform="translate(369.3 664.9) rotate(-89.74)" font-family="Liberation Sans" font-size="9.6" font-weight="normal" fill="#3a3a3a" stroke="#3a3a3a" stroke-width="0.15">447</text>
<text transform="translate(378.7 660.8) rotate(-89.74)" font-family="Liberation Sans" font-size="9.6" font-weight="normal" fill="#3a3a3a" stroke="#3a3a3a" stroke-width="0.15">446</text>
<text transform="translate(349.5 680.7) rotate(-89.74)" font-family="Liberation Sans" font-size="9.6" font-weight="normal" fill="#3a3a3a" stroke="#3a3a3a" stroke-width="0.15">482</text>
<text transform="translate(313.3 690.0) rotate(-89.74)" font-family="Liberation Sans" font-size="9.6" font-weight="normal" fill="#3a3a3a" stroke="#3a3a3a" stroke-width="0.15">450</text>
<text transform="translate(325.0 690.0) rotate(-89.74)" font-family="Liberation Sans" font-size="9.6" font-weight="normal" fill="#3a3a3a" stroke="#3a3a3a" stroke-width="0.15">451</text>
<text transform="translate(432.0 800.0) rotate(-89.74)" font-family="Liberation Sans" font-size="9.6" font-weight="normal" fill="#3a3a3a" stroke="#3a3a3a" stroke-width="0.15">480</text>
<text transform="translate(458.7 815.7) rotate(-89.74)" font-family="Liberation Sans" font-size="9.6" font-weight="normal" fill="#3a3a3a" stroke="#3a3a3a" stroke-width="0.15">448</text>
<text transform="translate(431.2 831.0) rotate(-89.74)" font-family="Liberation Sans" font-size="9.6" font-weight="normal" fill="#3a3a3a" stroke="#3a3a3a" stroke-width="0.15">449</text>
<text transform="translate(467.8 792.8) rotate(-89.74)" font-family="Liberation Sans" font-size="9.6" font-weight="normal" fill="#3a3a3a" stroke="#3a3a3a" stroke-width="0.15">479</text>
<path d="M470.5 559.3 L470.5 587.3 L483.3 596.0" fill="none" stroke="#222" stroke-width="0.8" stroke-linecap="butt" stroke-linejoin="round"/>
<path d="M498.5 548.8 L498.5 582.7 L505.0 586.9" fill="none" stroke="#222" stroke-width="0.8" stroke-linecap="butt" stroke-linejoin="round"/>
<path d="M537.0 529.0 L537.0 562.8 L553.3 562.4" fill="none" stroke="#222" stroke-width="0.8" stroke-linecap="butt" stroke-linejoin="round"/>
<path d="M549.5 552.5 L551.5 549.5 L553.0 552.5" fill="none" stroke="#222" stroke-width="0.8" stroke-linecap="butt" stroke-linejoin="round"/>
<path d="M569.7 515.0 L569.7 543.0 L565.7 554.2" fill="none" stroke="#222" stroke-width="0.8" stroke-linecap="butt" stroke-linejoin="round"/>
<path d="M719.3 451.2 L719.3 482.7 L725.2 486.2" fill="none" stroke="#222" stroke-width="0.8" stroke-linecap="butt" stroke-linejoin="round"/>
<path d="M903.3 349.5 L903.3 396.0 L904.4 417.6" fill="none" stroke="#222" stroke-width="0.8" stroke-linecap="butt" stroke-linejoin="round"/>
<path d="M930.4 371.0 L930.4 404.8 L918.1 433.6" fill="none" stroke="#222" stroke-width="0.8" stroke-linecap="butt" stroke-linejoin="round"/>
<path d="M954.7 365.8 L954.7 395.0 L962.9 397.8" fill="none" stroke="#222" stroke-width="0.8" stroke-linecap="butt" stroke-linejoin="round"/>
<path d="M980.7 361.4 L980.7 394.0 L969.4 397.2" fill="none" stroke="#222" stroke-width="0.8" stroke-linecap="butt" stroke-linejoin="round"/>
<path d="M1000.2 369.0 L1000.2 416.7 L1004.4 427.0" fill="none" stroke="#222" stroke-width="0.8" stroke-linecap="butt" stroke-linejoin="round"/>
<path d="M1026.0 375.0 L1026.0 399.0 L1016.4 413.7" fill="none" stroke="#222" stroke-width="0.8" stroke-linecap="butt" stroke-linejoin="round"/>
<path d="M1061.2 369.5 L1061.2 395.5 L1040.7 399.4" fill="none" stroke="#222" stroke-width="0.8" stroke-linecap="butt" stroke-linejoin="round"/>
<path d="M1099.8 399.0 L1099.8 422.5 L1083.1 437.4" fill="none" stroke="#222" stroke-width="0.8" stroke-linecap="butt" stroke-linejoin="round"/>
<path d="M1074.7 446.7 L1091.5 453.0 L1091.5 479.5" fill="none" stroke="#222" stroke-width="0.8" stroke-linecap="butt" stroke-linejoin="round"/>
<path d="M1042.0 414.0 L1042.0 493.6" fill="none" stroke="#222" stroke-width="0.8" stroke-linecap="butt" stroke-linejoin="round"/>
<path d="M1013.7 429.1 L1041.5 437.5 L1016.8 435.2" fill="none" stroke="#222" stroke-width="0.8" stroke-linecap="butt" stroke-linejoin="round"/>
<path d="M922.5 472.7 L922.5 530.8" fill="none" stroke="#222" stroke-width="0.8" stroke-linecap="butt" stroke-linejoin="round"/>
<path d="M922.5 472.7 L933.7 469.8" fill="none" stroke="#222" stroke-width="0.8" stroke-linecap="butt" stroke-linejoin="round"/>
<path d="M944.5 477.5 L958.0 482.7" fill="none" stroke="#222" stroke-width="0.8" stroke-linecap="butt" stroke-linejoin="round"/>
<path d="M1009.7 481.3 L1009.7 504.7 L990.9 510.0" fill="none" stroke="#222" stroke-width="0.8" stroke-linecap="butt" stroke-linejoin="round"/>
<path d="M1012.0 528.0 L1024.9 527.3 L1024.9 549.3 L1012.0 546.7 L1002.4 545.0" fill="none" stroke="#222" stroke-width="0.8" stroke-linecap="butt" stroke-linejoin="round"/>
<path d="M934.4 562.7 L934.4 537.3 L953.2 531.4" fill="none" stroke="#222" stroke-width="0.8" stroke-linecap="butt" stroke-linejoin="round"/>
<path d="M408.7 807.7 L408.7 785.5 L425.3 772.9" fill="none" stroke="#222" stroke-width="0.8" stroke-linecap="butt" stroke-linejoin="round"/>
<path d="M315.7 690.0 L315.7 667.8 L317.0 660.0 L319.2 652.6" fill="none" stroke="#222" stroke-width="0.8" stroke-linecap="butt" stroke-linejoin="round"/>
<text transform="translate(506.3 525.5) rotate(-89.74)" font-family="Liberation Sans" font-size="14.0" font-weight="normal" fill="#000" stroke="#000" stroke-width="0.28">д. Сгонники</text>
<text transform="translate(869.6 397.2) rotate(-89.74)" font-family="Liberation Sans" font-size="13.5" font-weight="normal" fill="#000" textLength="67.1" lengthAdjust="spacingAndGlyphs" stroke="#000" stroke-width="0.28">г. Мытищи</text>
<text transform="translate(1019.6 698.7) rotate(-89.74)" font-family="Liberation Sans" font-size="13.5" font-weight="normal" fill="#000" textLength="66.6" lengthAdjust="spacingAndGlyphs" stroke="#000" stroke-width="0.28">г. Мытищи</text>
<text transform="translate(680.9 872.4) rotate(-89.74)" font-family="Liberation Sans" font-size="13.5" font-weight="normal" fill="#000" textLength="66.3" lengthAdjust="spacingAndGlyphs" stroke="#000" stroke-width="0.28">г. Мытищи</text>
<text transform="translate(649.6 630.4) rotate(-17.50)" font-family="Liberation Sans" font-size="14.0" font-weight="normal" fill="#000" textLength="134.0" lengthAdjust="spacingAndGlyphs" stroke="#000" stroke-width="0.25">Осташковское шоссе</text>
<text transform="translate(1032.2 510.6) rotate(-18.50)" font-family="Liberation Sans" font-size="14.0" font-weight="normal" fill="#000" textLength="46.6" lengthAdjust="spacingAndGlyphs" stroke="#000" stroke-width="0.25">Москва</text>
<path d="M1046.3 515.6 L1080 505" stroke="#000" stroke-width="2.2" fill="none"/>
<path d="M1091 501.2 L1078.5 500.6 L1081.2 509.2 Z" fill="#000"/>
<text transform="translate(466.6 924.0) rotate(-89.74)" text-anchor="middle" font-family="Liberation Sans" font-size="13.8" fill="#000" stroke="#000" stroke-width="0.28">городской</text>
<text transform="translate(482.7 923.8) rotate(-89.74)" text-anchor="middle" font-family="Liberation Sans" font-size="13.8" fill="#000" stroke="#000" stroke-width="0.28">округ</text>
<text transform="translate(498.7 924.4) rotate(-89.74)" text-anchor="middle" font-family="Liberation Sans" font-size="13.7" fill="#000" stroke="#000" stroke-width="0.28">Мытищи</text>
<path d="M417.0 1192.4 L414.4 1158.4 L411.8 1192.4 Z" fill="#000"/>
<path d="M411.8 1206.4 L414.4 1230.4 L417.0 1206.4 Z" fill="#000"/>
<path d="M407.4 1196.7 L382.4 1199.4 L407.4 1202.1 Z" fill="#000"/>
<path d="M421.4 1202.1 L446.4 1199.4 L421.4 1196.7 Z" fill="#000"/>
<path d="M411.6 1192.3 L392.5 1177.5 L407.3 1196.6 Z" fill="#000"/>
<path d="M421.5 1196.6 L439.1 1174.7 L417.2 1192.3 Z" fill="#000"/>
<path d="M407.3 1202.2 L393.2 1220.6 L411.6 1206.5 Z" fill="#000"/>
<path d="M417.2 1206.5 L435.6 1220.6 L421.5 1202.2 Z" fill="#000"/>
<path d="M412.9 1192.5 L403.7 1173.5 L410.6 1193.4 Z" fill="#000"/>
<path d="M418.2 1193.4 L425.9 1171.7 L415.9 1192.5 Z" fill="#000"/>
<path d="M408.4 1195.6 L388.5 1188.7 L407.5 1197.9 Z" fill="#000"/>
<path d="M421.3 1197.9 L441.7 1188.1 L420.4 1195.6 Z" fill="#000"/>
<path d="M407.5 1200.9 L388.5 1210.1 L408.4 1203.2 Z" fill="#000"/>
<path d="M420.4 1203.2 L442.1 1210.9 L421.3 1200.9 Z" fill="#000"/>
<path d="M410.6 1205.4 L403.3 1226.2 L412.9 1206.3 Z" fill="#000"/>
<path d="M415.9 1206.3 L425.9 1227.1 L418.2 1205.4 Z" fill="#000"/>
<path d="M414.4 1227.4 L414.4 1239.9" fill="none" stroke="#444" stroke-width="0.7" stroke-linecap="butt" stroke-linejoin="round"/>
<path d="M384.4 1199.4 L369.4 1199.4" fill="none" stroke="#333" stroke-width="0.8" stroke-linecap="butt" stroke-linejoin="round"/>
<path d="M444.4 1199.4 L465.4 1199.4" fill="none" stroke="#333" stroke-width="0.8" stroke-linecap="butt" stroke-linejoin="round"/>
<path d="M370.4 1199.4 l6 -2.2 l-1.5 2.2 l1.5 2.2 Z" fill="#555"/>
<path d="M465.9 1199.4 l-6 -2.2 l-3 2.2 l3 2.2 Z" fill="none" stroke="#444" stroke-width="0.7"/>
<circle cx="414.4" cy="1199.4" r="9.2" fill="#fff"/>
<circle cx="414.4" cy="1199.4" r="8.6" fill="none" stroke="#666" stroke-width="1.2" stroke-dasharray="1.6 1.2"/>
<circle cx="414.4" cy="1199.4" r="5" fill="none" stroke="#777" stroke-width="1.6" stroke-dasharray="2 1.6"/>
<path d="M414.4 1192.4 L415.59999999999997 1199.4 L414.4 1206.4 L413.2 1199.4 Z M407.4 1199.4 L414.4 1198.2 L421.4 1199.4 L414.4 1200.6000000000001 Z" fill="#222"/>
<text transform="translate(367.6 1202.2) rotate(-89.74)" font-family="Liberation Sans" font-size="11.0" font-weight="bold" fill="#000" textLength="7.2" lengthAdjust="spacingAndGlyphs">N</text>
<text transform="translate(619.9 1356.8) rotate(-89.74)" font-family="Liberation Sans" font-size="11.8" font-weight="normal" fill="#000" textLength="155.0" lengthAdjust="spacingAndGlyphs">Схема расположения листов</text>
<path d="M627.5 1268.4 L694.7 1268.4" fill="none" stroke="#666" stroke-width="0.9" stroke-linecap="butt" stroke-linejoin="round" stroke-dasharray="1.6 1.2"/>
<path d="M694.7 1268.4 L694.7 1314.3" fill="none" stroke="#666" stroke-width="0.9" stroke-linecap="butt" stroke-linejoin="round" stroke-dasharray="1.6 1.2"/>
<path d="M627.5 1314.3 L694.7 1314.3" fill="none" stroke="#4a4a4a" stroke-width="0.9" stroke-linecap="butt" stroke-linejoin="round"/>
<path d="M627.5 1268.4 L627.5 1314.3" fill="none" stroke="#4a4a4a" stroke-width="0.9" stroke-linecap="butt" stroke-linejoin="round"/>
<path d="M656.3 1220.5 L701.4 1220.5" fill="none" stroke="#666" stroke-width="0.9" stroke-linecap="butt" stroke-linejoin="round" stroke-dasharray="1.6 1.2"/>
<path d="M701.4 1220.5 L701.4 1287.9" fill="none" stroke="#4a4a4a" stroke-width="0.9" stroke-linecap="butt" stroke-linejoin="round"/>
<path d="M656.3 1287.9 L701.4 1287.9" fill="none" stroke="#4a4a4a" stroke-width="0.9" stroke-linecap="butt" stroke-linejoin="round"/>
<path d="M656.3 1220.5 L656.3 1287.9" fill="none" stroke="#4a4a4a" stroke-width="0.9" stroke-linecap="butt" stroke-linejoin="round"/>
<path d="M695.3 1272.1 L758.8 1272.1" fill="none" stroke="#4a4a4a" stroke-width="0.9" stroke-linecap="butt" stroke-linejoin="round"/>
<path d="M695.3 1317.6 L758.8 1317.6" fill="none" stroke="#666" stroke-width="0.9" stroke-linecap="butt" stroke-linejoin="round" stroke-dasharray="1.6 1.2"/>
<path d="M695.3 1272.1 L695.3 1317.6" fill="none" stroke="#666" stroke-width="0.9" stroke-linecap="butt" stroke-linejoin="round" stroke-dasharray="1.6 1.2"/>
<path d="M758.8 1258.0 L822.7 1258.0" fill="none" stroke="#666" stroke-width="0.9" stroke-linecap="butt" stroke-linejoin="round" stroke-dasharray="1.6 1.2"/>
<path d="M822.7 1258.0 L822.7 1303.5" fill="none" stroke="#666" stroke-width="0.9" stroke-linecap="butt" stroke-linejoin="round" stroke-dasharray="1.6 1.2"/>
<path d="M758.8 1303.5 L822.7 1303.5" fill="none" stroke="#666" stroke-width="0.9" stroke-linecap="butt" stroke-linejoin="round" stroke-dasharray="1.6 1.2"/>
<path d="M758.8 1258.0 L758.8 1303.5" fill="none" stroke="#666" stroke-width="0.9" stroke-linecap="butt" stroke-linejoin="round" stroke-dasharray="1.6 1.2"/>
<path d="M822.7 1246.3 L885.5 1246.3" fill="none" stroke="#4a4a4a" stroke-width="0.9" stroke-linecap="butt" stroke-linejoin="round"/>
<path d="M885.5 1246.3 L885.5 1291.3" fill="none" stroke="#4a4a4a" stroke-width="0.9" stroke-linecap="butt" stroke-linejoin="round"/>
<path d="M822.7 1291.3 L885.5 1291.3" fill="none" stroke="#666" stroke-width="0.9" stroke-linecap="butt" stroke-linejoin="round" stroke-dasharray="1.6 1.2"/>
<path d="M822.7 1246.3 L822.7 1291.3" fill="none" stroke="#666" stroke-width="0.9" stroke-linecap="butt" stroke-linejoin="round" stroke-dasharray="1.6 1.2"/>
<path d="M847.5 1246.3 L885.5 1246.3" fill="none" stroke="#4a4a4a" stroke-width="0.9" stroke-linecap="butt" stroke-linejoin="round"/>
<path d="M885.5 1246.3 L885.5 1288.8" fill="none" stroke="#4a4a4a" stroke-width="0.9" stroke-linecap="butt" stroke-linejoin="round"/>
<path d="M847.5 1288.8 L885.5 1288.8" fill="none" stroke="#4a4a4a" stroke-width="0.9" stroke-linecap="butt" stroke-linejoin="round"/>
<path d="M847.5 1246.3 L847.5 1288.8" fill="none" stroke="#4a4a4a" stroke-width="0.9" stroke-linecap="butt" stroke-linejoin="round"/>
<path d="M847.5 1242.5 L911.8 1242.5" fill="none" stroke="#666" stroke-width="0.9" stroke-linecap="butt" stroke-linejoin="round" stroke-dasharray="1.6 1.2"/>
<path d="M911.8 1242.5 L911.8 1288.8" fill="none" stroke="#666" stroke-width="0.9" stroke-linecap="butt" stroke-linejoin="round" stroke-dasharray="1.6 1.2"/>
<path d="M847.5 1288.8 L911.8 1288.8" fill="none" stroke="#666" stroke-width="0.9" stroke-linecap="butt" stroke-linejoin="round" stroke-dasharray="1.6 1.2"/>
<path d="M911.3 1227.5 L975.5 1227.5" fill="none" stroke="#4a4a4a" stroke-width="1.1" stroke-linecap="butt" stroke-linejoin="round"/>
<path d="M975.5 1227.5 L975.5 1273.3" fill="none" stroke="#4a4a4a" stroke-width="1.1" stroke-linecap="butt" stroke-linejoin="round"/>
<path d="M911.3 1273.3 L975.5 1273.3" fill="none" stroke="#4a4a4a" stroke-width="1.1" stroke-linecap="butt" stroke-linejoin="round"/>
<path d="M911.3 1227.5 L911.3 1273.3" fill="none" stroke="#4a4a4a" stroke-width="1.1" stroke-linecap="butt" stroke-linejoin="round"/>
<path d="M975.5 1193.0 L1021.3 1193.0" fill="none" stroke="#4a4a4a" stroke-width="0.9" stroke-linecap="butt" stroke-linejoin="round"/>
<path d="M1021.3 1193.0 L1021.3 1260.5" fill="none" stroke="#4a4a4a" stroke-width="0.9" stroke-linecap="butt" stroke-linejoin="round"/>
<path d="M975.5 1260.5 L1021.3 1260.5" fill="none" stroke="#4a4a4a" stroke-width="0.9" stroke-linecap="butt" stroke-linejoin="round"/>
<path d="M975.5 1193.0 L975.5 1260.5" fill="none" stroke="#666" stroke-width="0.9" stroke-linecap="butt" stroke-linejoin="round" stroke-dasharray="1.6 1.2"/>
<path d="M1020.0 1184.3 L1066.3 1184.3" fill="none" stroke="#666" stroke-width="0.9" stroke-linecap="butt" stroke-linejoin="round" stroke-dasharray="1.6 1.2"/>
<path d="M1066.3 1184.3 L1066.3 1251.3" fill="none" stroke="#666" stroke-width="0.9" stroke-linecap="butt" stroke-linejoin="round" stroke-dasharray="1.6 1.2"/>
<path d="M1020.0 1251.3 L1066.3 1251.3" fill="none" stroke="#666" stroke-width="0.9" stroke-linecap="butt" stroke-linejoin="round" stroke-dasharray="1.6 1.2"/>
<path d="M1020.0 1184.3 L1020.0 1251.3" fill="none" stroke="#666" stroke-width="0.9" stroke-linecap="butt" stroke-linejoin="round" stroke-dasharray="1.6 1.2"/>
<text transform="translate(652.4 1303.5) rotate(-89.74)" font-family="Liberation Sans" font-size="8.3" font-weight="bold" fill="#111" textLength="21.7" lengthAdjust="spacingAndGlyphs">Лист 1</text>
<text transform="translate(680.0 1265.0) rotate(-89.74)" font-family="Liberation Sans" font-size="8.3" font-weight="bold" fill="#111" textLength="25.4" lengthAdjust="spacingAndGlyphs">Лист 2</text>
<text transform="translate(727.6 1307.8) rotate(-89.74)" font-family="Liberation Sans" font-size="8.3" font-weight="bold" fill="#111" textLength="26.0" lengthAdjust="spacingAndGlyphs">Лист 3</text>
<text transform="translate(792.2 1292.2) rotate(-89.74)" font-family="Liberation Sans" font-size="8.3" font-weight="bold" fill="#111" textLength="25.5" lengthAdjust="spacingAndGlyphs">Лист 4</text>
<text transform="translate(840.0 1279.4) rotate(-89.74)" font-family="Liberation Sans" font-size="8.3" font-weight="bold" fill="#111" textLength="25.7" lengthAdjust="spacingAndGlyphs">Лист 5</text>
<text transform="translate(898.8 1277.0) rotate(-89.74)" font-family="Liberation Sans" font-size="8.3" font-weight="bold" fill="#111" textLength="26.0" lengthAdjust="spacingAndGlyphs">Лист 6</text>
<text transform="translate(946.8 1261.0) rotate(-89.74)" font-family="Liberation Sans" font-size="8.3" font-weight="bold" fill="#111" textLength="26.0" lengthAdjust="spacingAndGlyphs">Лист 7</text>
<text transform="translate(1001.3 1238.0) rotate(-89.74)" font-family="Liberation Sans" font-size="8.3" font-weight="bold" fill="#111" textLength="25.5" lengthAdjust="spacingAndGlyphs">Лист 8</text>
<text transform="translate(1045.5 1232.5) rotate(-89.74)" font-family="Liberation Sans" font-size="8.3" font-weight="bold" fill="#111" textLength="26.5" lengthAdjust="spacingAndGlyphs">Лист 9</text>
<rect x="1088.8" y="1190" width="3.7" height="38.8" fill="#000"/>
<rect x="1088.8" y="1268.8" width="3.7" height="39.2" fill="#000"/>
<rect x="1088.8" y="1347.5" width="3.7" height="38.8" fill="#000"/>
<text transform="translate(1081.0 1192.5) rotate(-89.74)" font-family="Liberation Sans" font-size="6.5" font-weight="bold" fill="#000" textLength="7.5" lengthAdjust="spacingAndGlyphs">10</text>
<text transform="translate(1080.0 1388.2) rotate(-89.74)" font-family="Liberation Sans" font-size="6.5" font-weight="bold" fill="#000">0</text>
</svg></body></html>
